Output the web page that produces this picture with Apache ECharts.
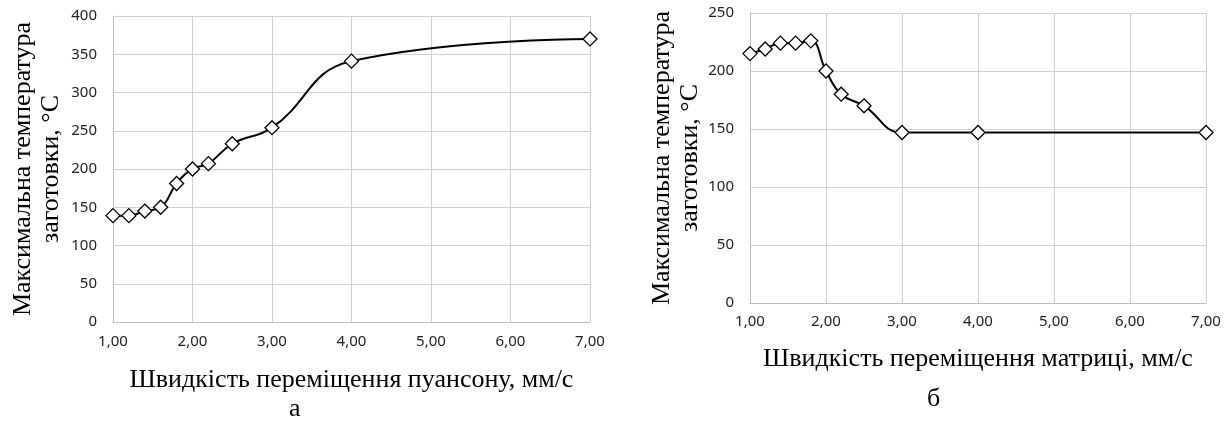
<!DOCTYPE html>
<html>
<head>
<meta charset="utf-8">
<script src="https://cdn.jsdelivr.net/npm/echarts@6/dist/echarts.min.js"></script>
<style>
    html, body { margin: 0; padding: 0; background: #fff; }
    #chart1 { width: 1227px; height: 423px; }
</style>
</head>
<body>
<div id="chart1"></div>
<script>
// speeds, mm/s
var speedA = [1.0, 1.2, 1.4, 1.6, 1.8, 2.0, 2.2, 2.5, 3.0, 4.0, 7.0];
var tempA = [139, 139, 145, 150, 181, 200, 207, 233, 254, 341, 370];
var speedB = [1.0, 1.2, 1.4, 1.6, 1.8, 2.0, 2.2, 2.5, 3.0, 4.0, 7.0];
var tempB = [215, 219, 224, 224, 226, 200, 180, 170, 147, 147, 147];

var yTitle = 'Максимальна температура\nзаготовки, °C';
var xTitleA = 'Швидкість переміщення пуансону, мм/с';
var xTitleB = 'Швидкість переміщення матриці, мм/с';

function pairs(xs, ys) {
    var out = [];
    for (var i = 0; i < xs.length; i++) out.push([xs[i], ys[i]]);
    return out;
}

function xAxisCfg(idx, name, gap, lblMargin) {
    return {
        gridIndex: idx, type: 'value', min: 1, max: 7, interval: 1,
        name: name, nameLocation: 'middle', nameGap: gap,
        nameTextStyle: {fontFamily: 'Liberation Serif', fontSize: 26, color: '#000'},
        axisLine: {show: true, lineStyle: {color: '#bfbfbf'}},
        axisTick: {show: false},
        axisLabel: {
            margin: lblMargin, fontFamily: 'Noto Sans', fontSize: 15, color: '#222',
            formatter: function (v) { return v.toFixed(2).replace('.', ','); }
        },
        splitLine: {show: true, lineStyle: {color: '#d0d0d0', width: 1}}
    };
}

function yAxisCfg(idx, max, gap) {
    return {
        gridIndex: idx, type: 'value', min: 0, max: max, interval: 50,
        name: yTitle, nameLocation: 'middle', nameGap: gap, nameRotate: 90,
        nameTextStyle: {fontFamily: 'Liberation Serif', fontSize: 26, color: '#000', lineHeight: 28},
        axisLine: {show: true, lineStyle: {color: '#bfbfbf'}},
        axisTick: {show: false},
        axisLabel: {margin: 16, fontFamily: 'Noto Sans', fontSize: 15, color: '#222'},
        splitLine: {show: true, lineStyle: {color: '#d0d0d0', width: 1}}
    };
}

function seriesCfg(idx, data) {
    return {
        type: 'line', xAxisIndex: idx, yAxisIndex: idx,
        data: data, smooth: 0.45,
        symbol: 'diamond', symbolSize: 14,
        lineStyle: {color: '#000', width: 2},
        itemStyle: {color: '#fff', borderColor: '#000', borderWidth: 1.3},
        animation: false
    };
}

var myChart = echarts.init(document.getElementById('chart1'));
var option = {
    animation: false,
    title: [
        {text: 'а', left: 284, top: 391, textStyle: {fontFamily: 'Liberation Serif', fontSize: 26, fontWeight: 'normal', color: '#000'}},
        {text: 'б', left: 922, top: 381, textStyle: {fontFamily: 'Liberation Serif', fontSize: 26, fontWeight: 'normal', color: '#000'}}
    ],
    grid: [
        {left: 113, right: 637, top: 16, bottom: 101},
        {left: 750, right: 21, top: 13, bottom: 120}
    ],
    xAxis: [xAxisCfg(0, xTitleA, 45, 12), xAxisCfg(1, xTitleB, 43, 11)],
    yAxis: [yAxisCfg(0, 400, 48), yAxisCfg(1, 250, 42)],
    series: [seriesCfg(0, pairs(speedA, tempA)), seriesCfg(1, pairs(speedB, tempB))]
};
myChart.setOption(option);
</script>
</body>
</html>
